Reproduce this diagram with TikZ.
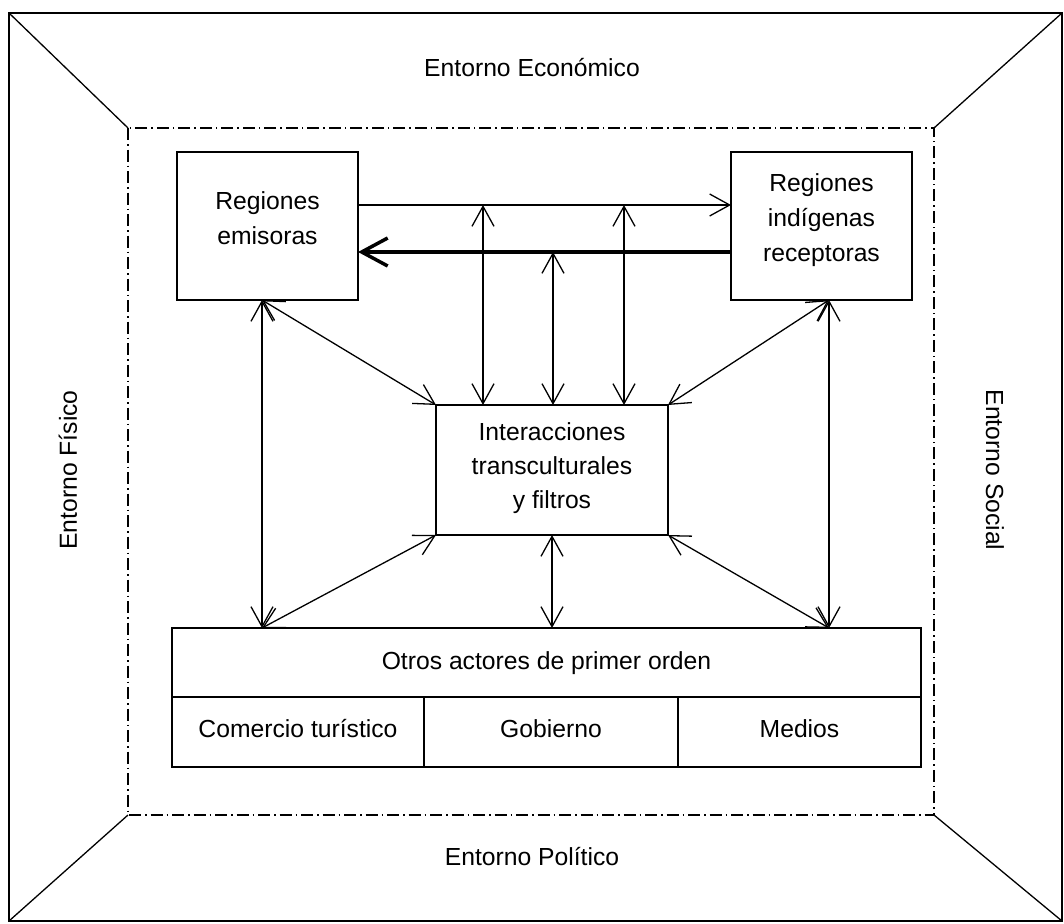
\documentclass[tikz,border=0pt]{standalone}
\usepackage{fontspec}
\setmainfont{Liberation Sans}
\usetikzlibrary{arrows.meta,calc}

\tikzset{
  frame/.style={line width=1.3pt},
  dashdot/.style={line width=1.3pt, dash pattern=on 12pt off 4pt on 1.5pt off 4pt},
  box/.style={draw, line width=1.5pt, inner sep=0pt, outer sep=0pt},
  lbl/.style={inner sep=0pt, align=center, font=\fontsize{24.7}{35}\selectfont},
  biarrow/.style={line width=1.3pt, {Straight Barb[length=20pt,width=22pt]}-{Straight Barb[length=20pt,width=22pt]}},
  onearrow/.style={line width=1.3pt, -{Straight Barb[length=20pt,width=22pt]}},
  heavyarrow/.style={line width=3.5pt, -{Straight Barb[length=26pt,width=28pt]}},
}

\begin{document}
\begin{tikzpicture}[x=1pt,y=-1pt]
\useasboundingbox (0,0) rectangle (1064,923);

% outer frame and inner dash-dotted boundary
\coordinate (o1) at (9,13);
\coordinate (o2) at (1062,13);
\coordinate (o3) at (1062,921);
\coordinate (o4) at (9,921);
\coordinate (i1) at (128,128);
\coordinate (i2) at (934,128);
\coordinate (i3) at (934,815);
\coordinate (i4) at (128,815);
\draw[frame] (o1) rectangle (o3);
\draw[dashdot] (i1) rectangle (i3);
\draw[frame] (o1) -- (i1) (o2) -- (i2) (o3) -- (i3) (o4) -- (i4);

% environment labels
\node[lbl] (eco) at (532,68) {Entorno Económico};
\node[lbl] (pol) at (532,857) {Entorno Político};
\node[lbl, rotate=90] (fis) at (68,470) {Entorno Físico};
\node[lbl, rotate=-90] (soc) at (995,470) {Entorno Social};

% main boxes
\node[box, minimum width=181pt, minimum height=148pt] (em) at (267.5,226) {};
\node[box, minimum width=181pt, minimum height=148pt] (rec) at (821.5,226) {};
\node[box, minimum width=232pt, minimum height=130pt] (int) at (552,470) {};
\node[box, minimum width=749pt, minimum height=139pt] (otr) at (546.5,697.5) {};

% texts of the boxes (base anchor sits on the last line)
\node[lbl, anchor=base] (emT) at (267.5,244) {Regiones\\emisoras};
\node[lbl, anchor=base] (recT) at (821.5,261) {Regiones\\indígenas\\receptoras};
\node[lbl, anchor=base, font=\fontsize{24.7}{34}\selectfont] (intT) at (552,508) {Interacciones\\transculturales\\y filtros};

% table of other actors
\coordinate (r1) at (172,697);
\coordinate (c1) at (424,697);
\coordinate (c2) at (678,697);
\draw[line width=1.5pt] (r1) -- (r1 -| otr.east);
\draw[line width=1.5pt] (c1) -- (c1 |- otr.south);
\draw[line width=1.5pt] (c2) -- (c2 |- otr.south);
\node[lbl, anchor=base] (otrT) at (546.5,669) {Otros actores de primer orden};
\node[lbl, anchor=base] (com) at (298,737) {Comercio turístico};
\node[lbl, anchor=base] (gob) at (551,737) {Gobierno};
\node[lbl, anchor=base] (med) at (799.5,737) {Medios};

% flows between the regions
\coordinate (ya) at (0,205);
\coordinate (yb) at (0,252);
\draw[onearrow] (em.east |- ya) -- (rec.west |- ya);
\draw[heavyarrow] (rec.west |- yb) -- (em.east |- yb);

% links down to the interaction box
\coordinate (v1) at (483,205);
\coordinate (v2) at (553,252);
\coordinate (v3) at (624,205);
\draw[biarrow] (v1) -- (v1 |- int.north);
\draw[biarrow] (v2) -- (v2 |- int.north);
\draw[biarrow] (v3) -- (v3 |- int.north);

% side links
\coordinate (el) at (262,300);
\coordinate (er) at (829,300);
\coordinate (bl) at (262,628);
\coordinate (br) at (829,628);
\draw[biarrow] (el) -- (bl);
\draw[biarrow] (er) -- (br);
\draw[biarrow] (el) -- (int.north west);
\draw[biarrow] (er) -- (int.north east);
\draw[biarrow] (int.south west) -- (bl);
\draw[biarrow] (int.south east) -- (br);
\draw[biarrow] (int.south) -- (int.south |- otr.north);
\end{tikzpicture}
\end{document}
